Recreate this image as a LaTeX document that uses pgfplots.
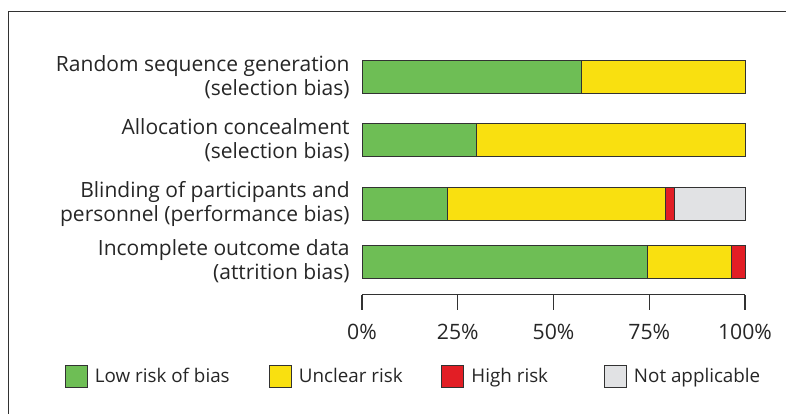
\documentclass[border=0pt]{standalone}
\usepackage{pgfplots}
\pgfplotsset{compat=1.18}
\usepackage{fontspec}
\setmainfont{Open Sans}
\definecolor{cgreen}{RGB}{110,190,85}
\definecolor{cyellow}{RGB}{249,224,16}
\definecolor{cred}{RGB}{226,30,37}
\definecolor{cgray}{RGB}{225,226,228}
\definecolor{cedge}{RGB}{50,50,50}
\pgfplotsset{sqlegend/.style={legend image code/.code={\draw[##1] (0pt,-5.5pt) rectangle (11pt,5.5pt);}}}
\begin{document}
\begin{tikzpicture}
\begin{axis}[
  scale only axis, width=191.5pt, height=127.35pt,
  xbar stacked, bar width=33,
  xmin=0, xmax=100, ymin=-294.7, ymax=-40,
  enlargelimits=false, clip=false,
  axis x line=bottom, axis y line=left,
  x axis line style={-, line width=0.65pt, color=cedge},
  y axis line style={draw=none},
  xtick={0,25,50,75,100},
  xticklabels={0\%,25\%,50\%,75\%,100\%},
  tick align=outside, major tick length=7.5pt,
  xtick style={line width=0.65pt, color=cedge},
  ytick style={draw=none},
  ytick={-76.7,-140,-203.7,-261.5},
  yticklabels={{Random sequence generation\\(selection bias)},{Allocation concealment\\(selection bias)},{Blinding of participants and\\personnel (performance bias)},{Incomplete outcome data\\(attrition bias)}},
  yticklabel style={align=right, font=\fontsize{10.5}{12}\selectfont, inner sep=0pt, xshift=1.5pt, text=black!85},
  xticklabel style={font=\fontsize{10.6}{12}\selectfont, yshift=-3.5pt, text=black!85},
  legend columns=4,
  legend style={at={(-0.7755,-0.323)}, anchor=west, draw=none, inner sep=0pt, outer sep=0pt,
    font=\fontsize{9.4}{11}\selectfont, text=black!85,
    /tikz/every odd column/.append style={column sep=1.5pt}},
  legend cell align=left,
]
\addplot[fill=cgreen, draw=cedge, line width=0.5pt, sqlegend]
  coordinates {(57.4,-76.7) (29.8,-140) (22.2,-203.7) (74.6,-261.5)};
\addplot[fill=cyellow, draw=cedge, line width=0.5pt, sqlegend]
  coordinates {(42.6,-76.7) (70.2,-140) (57.1,-203.7) (22.0,-261.5)};
\addplot[fill=cred, draw=cedge, line width=0.5pt, sqlegend]
  coordinates {(0,-76.7) (0,-140) (2.2,-203.7) (3.4,-261.5)};
\addplot[fill=cgray, draw=cedge, line width=0.5pt, sqlegend]
  coordinates {(0,-76.7) (0,-140) (18.5,-203.7) (0,-261.5)};
\legend{\makebox[85pt][l]{Low risk of bias},\makebox[69.25pt][l]{Unclear risk},\makebox[64.25pt][l]{High risk},Not applicable}
\coordinate (bbA) at (axis cs:-94.52,0);
\coordinate (bbB) at (axis cs:110.70,-413);
\draw[line width=0.5pt, cedge] (axis cs:-92.17,-440) -- (axis cs:-92.17,-11.7) -- (axis cs:120,-11.7);
\end{axis}
\pgfresetboundingbox
\useasboundingbox (bbA) rectangle (bbB);
\end{tikzpicture}
\end{document}
